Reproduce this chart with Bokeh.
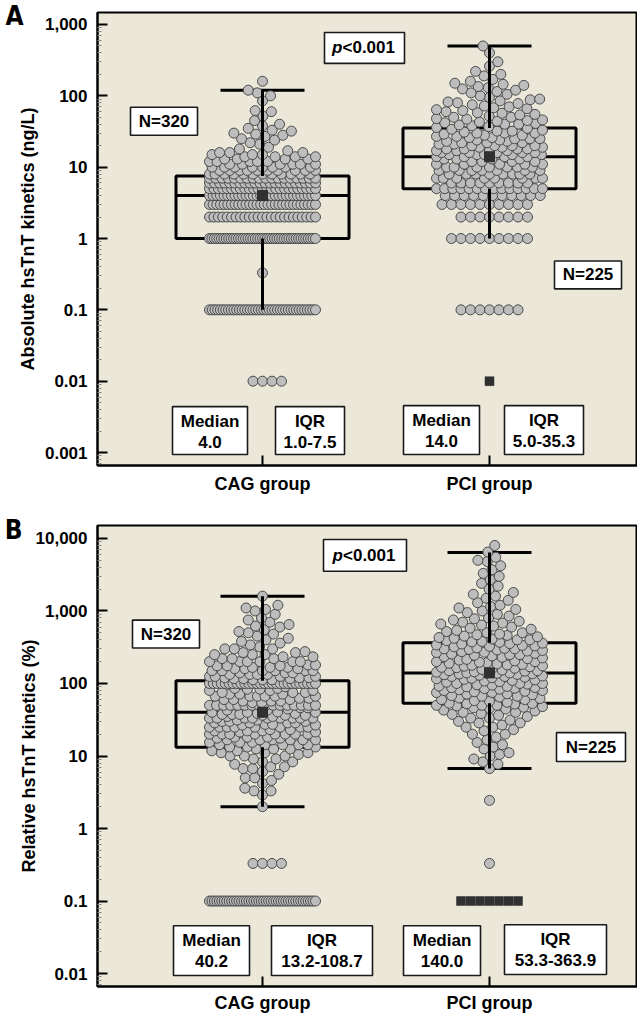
import numpy as np
from bokeh.plotting import figure
from bokeh.models import Range1d, FixedTicker, NumeralTickFormatter, LinearAxis
from bokeh.layouts import column
from bokeh.embed import file_html
from bokeh.resources import INLINE
from bokeh.core.properties import value

# ------------------------------------------------------------------ data
GROUPS = ["CAG group", "PCI group"]
GROUP_POS = [1, 2]
N_TEXT = ["N=320", "N=225"]
P_TEXT = "<0.001"

# Panel A : absolute hsTnT kinetics (ng/L) -- value / frequency tables
A_CAG_VALUES = [0.01, 0.1, 0.33, 1, 2, 3, 4, 5, 6, 7, 8, 9, 10, 11, 12, 13, 14, 15, 16, 17, 18, 19,
                21, 22, 24, 25, 27, 28, 29, 30, 32, 33, 35, 38, 40, 45, 52, 60, 62, 85, 100, 110, 120, 160]
A_CAG_COUNTS = [4, 40, 1, 45, 25, 30, 30, 25, 22, 18, 12, 10, 8, 6, 5, 4, 4, 3, 3, 1, 1, 1,
                1, 1, 1, 1, 1, 1, 1, 1, 1, 1, 1, 1, 1, 1, 1, 1, 1, 1, 1, 1, 1, 1]
A_PCI_VALUES = [0.01, 0.1, 1, 2, 3, 4, 5, 6, 7, 8, 9, 10, 11, 12, 13, 14, 15, 16, 17, 18, 19, 20,
                21, 22, 23, 24, 25, 26, 27, 28, 29, 30, 31, 32, 33, 34, 35,
                36, 37, 38, 39, 40, 41, 42, 43, 44, 45, 46, 47, 48, 50, 52, 54, 55, 57, 58, 60,
                62, 64, 66, 68, 70, 72, 75, 78, 80, 82, 85, 88, 90, 95, 100, 105,
                110, 115, 120, 125, 130, 135, 140, 145, 150, 160, 170, 190, 200, 220, 260, 300, 400, 500]
A_PCI_COUNTS = [1, 7, 9, 8, 10, 11, 14, 9, 8, 8, 7, 7, 5, 4, 4, 4, 5, 5, 4, 4, 3, 4,
                2, 3, 2, 2, 3, 2, 2, 2, 1, 3, 1, 2, 1, 1, 1,
                1, 1, 1, 1, 2, 1, 1, 1, 1, 1, 1, 1, 1, 2, 1, 1, 1, 1, 1, 1,
                1, 1, 1, 1, 1, 1, 1, 1, 1, 1, 1, 1, 1, 1, 1, 1,
                1, 1, 1, 1, 1, 1, 1, 1, 1, 1, 1, 1, 1, 1, 1, 1, 1, 1]
A_FAR = [[], [0.01]]            # far-out values drawn as dark squares
A_Q1 = [1.0, 5.0]
A_MEDIAN = [4.0, 14.0]
A_Q3 = [7.5, 35.3]
A_WHISK_LO = [0.1, 1.0]
A_WHISK_HI = [120, 500]

# Panel B : relative hsTnT kinetics (%)
B_CAG_VALUES = [0.1, 0.33, 2.0, 2.9, 3.3, 3.6, 4.2, 4.6, 5.0, 5.6, 6.1, 6.7, 7.1, 7.7, 8.3, 9.1,
                10.0, 10.5, 11.1, 11.8, 12.5,
                13.3, 14.3, 15.4, 16.7, 17.6, 18.2, 20.0, 21.4, 22.2, 23.1, 25.0, 26.7, 27.3, 28.6,
                30.0, 31.3, 33.3, 35.0, 36.4, 37.5, 38.5, 40.0,
                40.5, 42.9, 44.4, 46.2, 50.0, 54.5, 57.1, 60.0, 62.5, 66.7, 71.4, 75.0, 80.0, 83.3,
                85.7, 90.0, 100.0,
                112.5, 116.7, 120.0, 125.0, 133.3, 140.0, 150.0, 160.0, 166.7, 175.0, 180.0, 200.0,
                220.0, 233.3, 250.0, 266.7, 275.0, 300.0,
                320, 340, 360, 380, 400, 420, 450, 480, 500, 520, 550, 600, 620, 650, 700, 750, 800,
                900, 1000, 1050, 1100, 1200, 1600]
B_CAG_COUNTS = [44, 4, 1, 1, 2, 1, 1, 1, 2, 1, 1, 2, 2, 1, 2, 2,
                3, 1, 3, 2, 3,
                3, 5, 3, 6, 2, 3, 8, 2, 3, 2, 8, 2, 2, 4,
                3, 2, 9, 2, 3, 3, 2, 3,
                1, 2, 1, 2, 16, 2, 3, 3, 2, 6, 3, 3, 3, 2,
                2, 1, 28,
                3, 3, 3, 4, 4, 3, 6, 3, 3, 3, 2, 6,
                3, 2, 3, 2, 1, 3,
                1, 1, 1, 1, 1, 1, 1, 1, 1, 1, 1, 1, 1, 1, 1, 1, 1,
                1, 1, 1, 1, 1, 1]
# PCI group, every observation listed
B_PCI_VALUES = [0.1, 0.1, 0.1, 0.1, 0.1, 0.1, 0.1,
                0.33, 2.44, 6.7, 7.7, 8.3, 9.1, 10.0, 10.5, 11.1, 12.5, 13.3, 14.3, 15.4, 16.7, 18.2,
                20, 20, 22.2, 23.1, 25, 25, 26.7, 28.6, 28.6, 30, 31.3, 33.3, 33.3, 35, 36.4, 37.5,
                38.5, 40, 40, 41.7, 42.9, 44.4, 45.5, 46.2, 47.1, 48, 49, 50, 50, 50, 51.9, 52.6,
                53.0, 53.3,
                55, 57, 58, 60, 60, 62, 63, 65, 66.7, 66.7, 68, 70, 71.4, 72, 75, 75, 77, 78, 80, 80,
                82, 83.3, 85, 86, 87.5, 88, 90, 91, 92, 95, 96, 98, 100, 100, 100, 104, 106, 108,
                110, 112, 114, 116, 118, 120, 122, 125, 125, 127, 130, 132, 133.3, 135, 136, 138,
                139, 140, 140,
                143, 145, 148, 150, 150, 153, 156, 160, 162, 165, 167, 170, 173, 175, 178, 180, 183,
                186, 190, 193, 196, 200, 200, 205, 210, 215, 220, 225, 230, 235, 240, 245, 250, 250,
                255, 260, 266.7, 270, 275, 280, 285, 290, 295, 300, 300, 305, 310, 320, 325, 330,
                335, 340, 350, 355, 360,
                370, 375, 380, 390, 400, 400, 410, 420, 430, 440, 450, 460, 470, 480, 500, 500, 520,
                540, 560, 580, 600, 620, 640, 660, 680, 700, 720, 750, 780, 800, 850, 900, 950, 1000,
                1050, 1100, 1150, 1200, 1300, 1400, 1500, 1600, 1700, 1800, 2000, 2200, 2400, 2700,
                3000, 3300, 3700, 4200, 4800, 5000, 5500, 6500, 8000]
B_FAR = [[], [0.1]]
B_Q1 = [13.2, 53.3]
B_MEDIAN = [40.2, 140.0]
B_Q3 = [108.7, 363.9]
B_WHISK_LO = [2.0, 6.7]
B_WHISK_HI = [1600, 6400]

# ------------------------------------------------------------------ style
BG = "#ebe8da"
DOT_FILL = "#bdbdbd"
DOT_LINE = "#4a4a4a"
DARK = "#303030"
FONT = "Liberation Sans"
LETTER_FONT = "DejaVu Sans Condensed, Liberation Sans, sans-serif"

FIG_W = 637
LEFT = 97                      # frame left edge
PX_PER_UNIT = 227.0
X0 = 1 - (262 - LEFT) / PX_PER_UNIT
X1 = X0 + (FIG_W - LEFT) / PX_PER_UNIT
BOX_HALF = 86.5 / PX_PER_UNIT
CAP_HALF = 42.0 / PX_PER_UNIT
SWARM_HALF = 53.0
DOT_D = 9.5


def swarm(vals, ppd, d=DOT_D, half_w=SWARM_HALF):
    """Beeswarm offsets (pixels) for values on a log axis."""
    vals = np.asarray(vals, float)
    ys = np.log10(vals) * ppd
    xs = np.zeros(len(vals))
    uniq, inv, cnt = np.unique(vals, return_inverse=True, return_counts=True)
    crowded = (cnt - 1) * d > 2 * half_w
    for k in range(len(uniq)):
        if crowded[k]:
            idx = np.where(inv == k)[0]
            xs[idx] = np.linspace(-half_w, half_w, len(idx))
    free = [i for i in np.argsort(ys, kind="stable") if not crowded[inv[i]]]
    placed = []
    side = 1.0
    for i in free:
        y = ys[i]
        near = [j for j in placed if abs(ys[j] - y) < d]
        nx = xs[near]
        ny = ys[near]
        cands = [0.0]
        for xj, yj in zip(nx, ny):
            dx = np.sqrt(max(d * d - (yj - y) ** 2, 0.0))
            cands += [xj - dx, xj + dx]
        cands = sorted(cands, key=lambda c: (round(abs(c), 5), -side * c))
        best = None
        for c in cands:
            if abs(c) > half_w + 1e-6:
                continue
            if len(near) == 0 or np.all((nx - c) ** 2 + (ny - y) ** 2 >= d * d - 1e-6):
                best = c
                break
        if best is None:
            grid = np.linspace(-half_w, half_w, 43)
            md = [np.min((nx - g) ** 2 + (ny - y) ** 2) for g in grid]
            best = grid[int(np.argmax(md))]
        xs[i] = best
        if best != 0:
            side = -np.sign(best)
        placed.append(i)
    return xs


def fx(px):
    return X0 + (px - LEFT) / PX_PER_UNIT


def make_panel(letter, letter_from_top, letter_standoff, tables, fars, q1, med, q3, wlo, whi,
               ylabel, ylab_standoff, top_log, bot_log, ppd, frame_top_px, majors, boxes,
               height, top, bottom, xlab_standoff):
    frame_h = height - top - bottom
    p = figure(width=FIG_W, height=height, x_range=Range1d(X0, X1),
               y_range=Range1d(10 ** bot_log, 10 ** top_log), y_axis_type="log",
               output_backend="svg", toolbar_location=None,
               min_border_left=LEFT, min_border_right=0,
               min_border_top=top, min_border_bottom=bottom)
    p.background_fill_color = BG
    p.border_fill_color = "white"
    p.outline_line_color = "black"
    p.outline_line_width = 2
    p.grid.visible = False

    def fy(py):
        return 10 ** (top_log - (py - frame_top_px) / ppd)

    minors = [m * 10.0 ** e for e in range(int(np.floor(bot_log)), int(np.ceil(top_log)) + 1)
              for m in range(2, 10)]
    ya = p.yaxis[0]
    ya.ticker = FixedTicker(ticks=majors, minor_ticks=minors)
    ya.formatter = NumeralTickFormatter(format="0,0.[000]")
    ya.major_tick_in = 10
    ya.major_tick_out = 0
    ya.major_tick_line_width = 2
    ya.minor_tick_in = 4
    ya.minor_tick_out = 0
    ya.minor_tick_line_color = "#8c8c8c"
    ya.axis_line_width = 2
    ya.major_label_standoff = 10
    ya.major_label_text_font = FONT
    ya.major_label_text_font_style = "bold"
    ya.major_label_text_font_size = "17px"
    ya.major_label_text_color = "black"
    ya.axis_label = ylabel
    ya.axis_label_text_font = FONT
    ya.axis_label_text_font_style = "bold"
    ya.axis_label_text_font_size = "18px"
    ya.axis_label_text_color = "black"
    ya.axis_label_standoff = ylab_standoff

    # panel letter, drawn as the single label of an outer, invisible axis
    p.extra_y_ranges = {"letter": Range1d(0, frame_h)}
    la = LinearAxis(y_range_name="letter",
                    ticker=FixedTicker(ticks=[frame_h - letter_from_top], minor_ticks=[]),
                    major_label_overrides={frame_h - letter_from_top: letter},
                    axis_line_color=None, major_tick_line_color=None,
                    minor_tick_line_color=None, major_tick_in=0, major_tick_out=0,
                    major_label_standoff=letter_standoff,
                    major_label_text_font=LETTER_FONT, major_label_text_font_size="26px",
                    major_label_text_font_style="bold", major_label_text_color="black")
    p.add_layout(la, "left")

    xa = p.xaxis[0]
    xa.ticker = FixedTicker(ticks=GROUP_POS, minor_ticks=[])
    xa.major_label_overrides = {pos: g for pos, g in zip(GROUP_POS, GROUPS)}
    xa.major_tick_in = 10
    xa.major_tick_out = 0
    xa.major_tick_line_width = 2
    xa.axis_line_width = 2
    xa.major_label_standoff = xlab_standoff
    xa.major_label_text_font = FONT
    xa.major_label_text_font_style = "bold"
    xa.major_label_text_color = "black"
    xa.major_label_text_font_size = "18px"

    for gi, pos in enumerate(GROUP_POS):
        p.quad(left=[pos - BOX_HALF], right=[pos + BOX_HALF], bottom=[q1[gi]], top=[q3[gi]],
               fill_color=None, line_color="black", line_width=3)
        p.segment(x0=[pos - BOX_HALF], x1=[pos + BOX_HALF], y0=[med[gi]], y1=[med[gi]],
                  line_color="black", line_width=3)
        p.segment(x0=[pos - CAP_HALF, pos - CAP_HALF], x1=[pos + CAP_HALF, pos + CAP_HALF],
                  y0=[wlo[gi], whi[gi]], y1=[wlo[gi], whi[gi]], line_color="black", line_width=3)

    for gi, pos in enumerate(GROUP_POS):
        vals_t, cnts_t = tables[gi]
        vals = np.asarray(vals_t, float)
        if cnts_t is not None:
            vals = np.repeat(vals, cnts_t)
        xs = pos + swarm(vals, ppd) / PX_PER_UNIT
        order = np.lexsort((xs, vals))
        vals, xs = vals[order], xs[order]
        far = np.isin(vals, fars[gi])
        p.scatter(xs[~far], vals[~far], marker="circle", size=10, fill_color=DOT_FILL,
                  line_color=DOT_LINE, line_width=1)
        if far.any():
            p.scatter(xs[far], vals[far], marker="square", size=9, fill_color=DARK,
                      line_color=DARK, line_width=0.5)

    for gi, pos in enumerate(GROUP_POS):
        p.segment(x0=[pos, pos], x1=[pos, pos], y0=[q3[gi], q1[gi]], y1=[whi[gi], wlo[gi]],
                  line_color="black", line_width=3)
        p.scatter([pos], [med[gi]], marker="square", size=10, fill_color=DARK,
                  line_color=DARK)

    for (l, r, t, b, lines, kind) in boxes:
        p.quad(left=[fx(l)], right=[fx(r)], top=[fy(t)], bottom=[fy(b)],
               fill_color="white", line_color="#1a1a1a", line_width=1.6)
        cx = fx((l + r) / 2)
        if kind == "p":
            px_split = (l + r) / 2 - 22
            p.text(x=[fx(px_split)], y=[fy((t + b) / 2)], text=["p"], text_align="right",
                   text_baseline="middle", text_font=value(FONT),
                   text_font_style="bold italic", text_font_size="17px", text_color="black")
            p.text(x=[fx(px_split)], y=[fy((t + b) / 2)], text=[lines[0]], text_align="left",
                   text_baseline="middle", text_font=value(FONT),
                   text_font_style="bold", text_font_size="17px", text_color="black")
        elif len(lines) == 1:
            p.text(x=[cx], y=[fy((t + b) / 2)], text=[lines[0]], text_align="center",
                   text_baseline="middle", text_font=value(FONT),
                   text_font_style="bold", text_font_size="17px", text_color="black")
        else:
            p.text(x=[cx, cx], y=[fy(t + 14.5), fy(t + 35)], text=lines, text_align="center",
                   text_baseline="middle", text_font=value(FONT),
                   text_font_style="bold", text_font_size="17px", text_color="black")
    return p


def med_lines(m):
    return ["Median", f"{m:.1f}"]


def iqr_lines(a, b):
    return ["IQR", f"{a:.1f}-{b:.1f}"]


boxes_a = [
    (130, 197, 107, 135, [N_TEXT[0]], "n"),
    (324, 404, 32, 63, [P_TEXT], "p"),
    (554, 621, 261, 289, [N_TEXT[1]], "n"),
    (172, 247, 407, 455, med_lines(A_MEDIAN[0]), "m"),
    (275, 344, 407, 455, iqr_lines(A_Q1[0], A_Q3[0]), "m"),
    (403, 479, 406, 455, med_lines(A_MEDIAN[1]), "m"),
    (504, 583, 406, 455, iqr_lines(A_Q1[1], A_Q3[1]), "m"),
]
boxes_b = [
    (132, 199, 620, 648, [N_TEXT[0]], "n"),
    (323, 406, 539, 571, [P_TEXT], "p"),
    (556, 625, 733, 762, [N_TEXT[1]], "n"),
    (173, 249, 927, 977, med_lines(B_MEDIAN[0]), "m"),
    (271, 372, 927, 977, iqr_lines(B_Q1[0], B_Q3[0]), "m"),
    (403, 480, 927, 977, med_lines(B_MEDIAN[1]), "m"),
    (504, 606, 926, 976, iqr_lines(B_Q1[1], B_Q3[1]), "m"),
]

H_A = 496
H_B = 519
pA = make_panel("A", 22, -9, [(A_CAG_VALUES, A_CAG_COUNTS), (A_PCI_VALUES, A_PCI_COUNTS)],
                A_FAR, A_Q1, A_MEDIAN, A_Q3, A_WHISK_LO, A_WHISK_HI,
                "Absolute hsTnT kinetics (ng/L)", 4,
                3.168, -3.182, 71.5, 12, [10.0 ** e for e in range(-3, 4)], boxes_a,
                height=H_A, top=12, bottom=30, xlab_standoff=8)
pB = make_panel("B", 28, -7, [(B_CAG_VALUES, B_CAG_COUNTS), (B_PCI_VALUES, None)],
                B_FAR, B_Q1, B_MEDIAN, B_Q3, B_WHISK_LO, B_WHISK_HI,
                "Relative hsTnT kinetics (%)", -6,
                4.1785, -2.1785, 72.83, 525, [10.0 ** e for e in range(-2, 5)], boxes_b,
                height=H_B, top=525 - H_A, bottom=H_B - (525 - H_A) - 463, xlab_standoff=6)

layout = column(pA, pB)
open("out.html", "w").write(file_html(layout, INLINE))
